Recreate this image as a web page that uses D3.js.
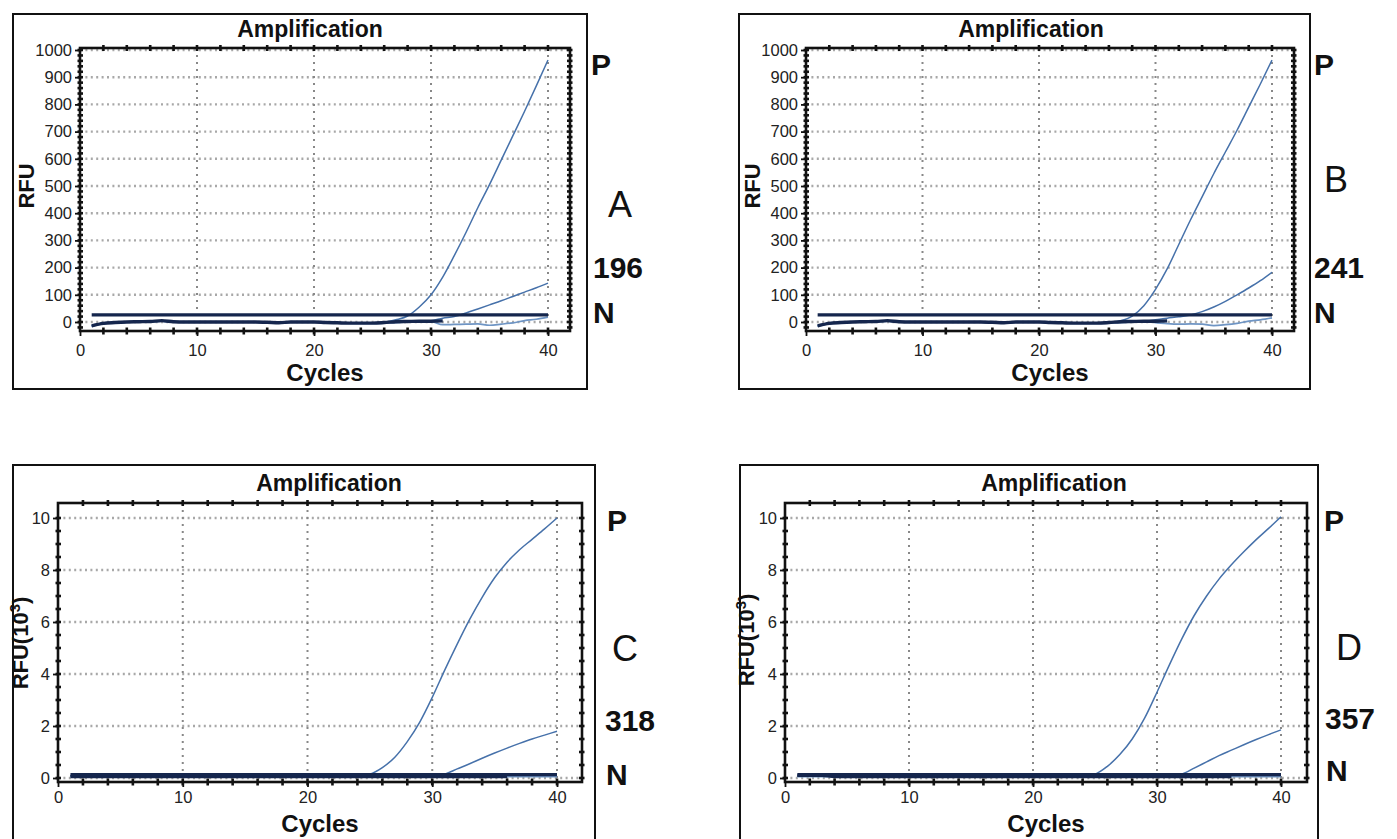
<!DOCTYPE html>
<html><head><meta charset="utf-8">
<script src="https://cdn.jsdelivr.net/npm/d3@7"></script>
<style>
body{margin:0;background:#fff}
text{font-family:"Liberation Sans",Arial,sans-serif}
</style>
</head><body>
<svg id="c" width="1397" height="839"></svg>
<script>
// ---------------- DATA ----------------
const cycles = d3.range(1, 41);            // cycle numbers 1..40
const xTicks = [0, 10, 20, 30, 40];
const yTicksRFU = [0, 100, 200, 300, 400, 500, 600, 700, 800, 900, 1000];
const yTicksK = [0, 2, 4, 6, 8, 10];

// Panel A (RFU)
const A_threshold = 26;
const A_base = [-14,-5,-2,0,1,2,5,1,0,0, 0,0,0,0,0,-1,-3,0,0,0, -2,-3,-4,-4,-4,-2,1,2,3,3, 4];
const A_P    = [-14,-5,-2,0,1,2,4,1,0,0, 0,0,0,0,0,-1,-3,0,0,0, -2,-3,-4,-4,-4,-1,8,22,55,100, 165,245,330,420,505,595,685,775,868,963];
const A_S196 = [-15,-6,-3,-1,0,1,3,0,0,0, 0,0,0,0,0,-1,-3,0,0,0, -3,-4,-5,-5,-5,-3,0,2,3,5, 14,20,33,48,63,78,94,110,126,143];
const A_N    = [-16,-6,-3,-1,0,1,3,0,0,-1, -1,0,0,0,-1,-2,-4,-1,0,0, -3,-4,-5,-5,-5,-4,-2,0,1,1, -10,-9,-8,-7,-12,-8,-3,5,10,18];

// Panel B (RFU)
const B_threshold = 26;
const B_base = [-14,-5,-2,0,1,2,5,1,0,0, 0,0,0,0,0,-1,-3,0,0,0, -2,-3,-4,-4,-4,-2,1,2,3,3, 4];
const B_P    = [-14,-5,-2,0,1,2,4,1,0,0, 0,0,0,0,0,-1,-3,0,0,0, -2,-3,-4,-4,-4,-1,5,22,60,120, 195,285,375,460,545,625,705,790,875,963];
const B_S241 = [-15,-6,-3,-1,0,1,3,0,0,0, 0,0,0,0,0,-1,-3,0,0,0, -3,-4,-5,-5,-5,-3,0,2,3,8, 14,19,26,38,55,76,100,125,152,183];
const B_N    = [-16,-6,-3,-1,0,1,3,0,0,-1, -1,0,0,0,-1,-2,-4,-1,0,0, -3,-4,-5,-5,-5,-4,-2,0,1,-2, -6,-8,-7,-8,-13,-10,-5,3,8,15];

// Panel C (RFU x10^3)
const C_threshold = 0.13;
const C_base = [0.06,0.06,0.06,0.06,0.06,0.06,0.06,0.06,0.06,0.06, 0.06,0.06,0.06,0.06,0.06,0.06,0.06,0.06,0.06,0.06, 0.06,0.06,0.06,0.06,0.06,0.06,0.06,0.06,0.06,0.06, 0.06,0.06,0.06,0.06,0.06,0.06];
const C_P    = [0.08,0.08,0.08,0.08,0.08,0.08,0.08,0.08,0.08,0.08, 0.08,0.08,0.08,0.08,0.08,0.08,0.08,0.08,0.08,0.08, 0.08,0.08,0.08,0.08,0.15,0.4,0.8,1.4,2.15,3.1, 4.15,5.15,6.1,6.95,7.7,8.3,8.78,9.18,9.58,10.0];
const C_S318 = [0.08,0.08,0.08,0.08,0.08,0.08,0.08,0.08,0.08,0.08, 0.08,0.08,0.08,0.08,0.08,0.08,0.08,0.08,0.08,0.08, 0.08,0.08,0.08,0.08,0.08,0.08,0.08,0.08,0.08,0.08, 0.15,0.35,0.55,0.76,0.96,1.15,1.33,1.5,1.65,1.8];
const C_N    = [0.05,0.05,0.05,0.05,0.05,0.05,0.05,0.05,0.05,0.05, 0.05,0.05,0.05,0.05,0.05,0.05,0.05,0.05,0.05,0.05, 0.05,0.05,0.05,0.05,0.05,0.05,0.05,0.05,0.05,0.05, 0.05,0.05,0.05,0.05,0.05,0.05,0.05,0.05,0.05,0.05];

// Panel D (RFU x10^3)
const D_threshold = 0.13;
const D_base = [0.1,0.1,0.1,0.06,0.06,0.06,0.06,0.06,0.06,0.06, 0.06,0.06,0.06,0.06,0.06,0.06,0.06,0.06,0.06,0.06, 0.06,0.06,0.06,0.06,0.06,0.06,0.06,0.06,0.06,0.06, 0.06,0.06,0.06,0.06,0.06,0.06];
const D_P    = [0.08,0.08,0.08,0.08,0.08,0.08,0.08,0.08,0.08,0.08, 0.08,0.08,0.08,0.08,0.08,0.08,0.08,0.08,0.08,0.08, 0.08,0.08,0.08,0.08,0.15,0.45,0.9,1.5,2.3,3.3, 4.35,5.35,6.25,7.0,7.65,8.2,8.7,9.17,9.6,10.05];
const D_S357 = [0.08,0.08,0.08,0.08,0.08,0.08,0.08,0.08,0.08,0.08, 0.08,0.08,0.08,0.08,0.08,0.08,0.08,0.08,0.08,0.08, 0.08,0.08,0.08,0.08,0.08,0.08,0.08,0.08,0.08,0.08, 0.08,0.15,0.38,0.62,0.86,1.07,1.28,1.48,1.67,1.85];
const D_N    = [0.05,0.05,0.05,0.05,0.05,0.05,0.05,0.05,0.05,0.05, 0.05,0.05,0.05,0.05,0.05,0.05,0.05,0.05,0.05,0.05, 0.05,0.05,0.05,0.05,0.05,0.05,0.05,0.05,0.05,0.05, 0.05,0.05,0.05,0.05,0.05,0.05,0.05,0.05,0.05,0.05];

const panelLetters = ["A", "B", "C", "D"];
const sampleLabels = ["196", "241", "318", "357"];
const yTitles = [["RFU", ""], ["RFU", ""], ["RFU(10", "3", ")"], ["RFU(10", "3", ")"]];

// ---------------- LAYOUT ----------------
const svg = d3.select("#c");
const NAVY = "#15264d", BLUE = "#4671aa";

const panels = [
  {letter: panelLetters[0], sample: sampleLabels[0], ytitle: yTitles[0], yTicks: yTicksRFU, yMax: 1000, minorY: 20,
   thr: A_threshold, base: A_base, curves: [A_N, A_S196, A_P],
   box: [13, 14, 574, 375], x0: 80, x40: 548, frameR: 570, y0: 322, yTop: 50, frameT: 48, frameB: 331,
   titleX: 310, titleY: 37, cycY: 381, xlabPad: 8, ytX: 27, ytY: 186,
   lab: {P: [591, 75], L: [608, 217], S: [593, 278], N: [593, 323]}},
  {letter: panelLetters[1], sample: sampleLabels[1], ytitle: yTitles[1], yTicks: yTicksRFU, yMax: 1000, minorY: 20,
   thr: B_threshold, base: B_base, curves: [B_N, B_S241, B_P],
   box: [739, 14, 571, 375], x0: 806, x40: 1272, frameR: 1294, y0: 322, yTop: 50, frameT: 48, frameB: 331,
   titleX: 1031, titleY: 37, cycY: 381, xlabPad: 8, ytX: 753, ytY: 186,
   lab: {P: [1314, 75], L: [1324, 192], S: [1314, 278], N: [1314, 323]}},
  {letter: panelLetters[2], sample: sampleLabels[2], ytitle: yTitles[2], yTicks: yTicksK, yMax: 10, minorY: 0.5,
   thr: C_threshold, base: C_base, curves: [C_N, C_S318, C_P],
   box: [13, 465, 582, 420], x0: 58, x40: 557, frameR: 582, y0: 778, yTop: 518, frameT: 503, frameB: 782,
   titleX: 329, titleY: 491, cycY: 832, xlabPad: 4, ytX: 21, ytY: 643,
   lab: {P: [607, 531], L: [612, 661], S: [605, 731], N: [606, 785]}},
  {letter: panelLetters[3], sample: sampleLabels[3], ytitle: yTitles[3], yTicks: yTicksK, yMax: 10, minorY: 0.5,
   thr: D_threshold, base: D_base, curves: [D_N, D_S357, D_P],
   box: [740, 465, 578, 420], x0: 785, x40: 1281, frameR: 1307, y0: 778, yTop: 518, frameT: 503, frameB: 782,
   titleX: 1054, titleY: 491, cycY: 832, xlabPad: 4, ytX: 747, ytY: 640,
   lab: {P: [1324, 531], L: [1336, 660], S: [1325, 729], N: [1326, 781]}}
];

panels.forEach(drawPanel);

function drawPanel(p) {
  const g = svg.append("g");
  const x = d3.scaleLinear().domain([0, 40]).range([p.x0, p.x40]);
  const y = d3.scaleLinear().domain([0, p.yMax]).range([p.y0, p.yTop]);
  const L = p.x0, R = p.frameR, T = p.frameT, B = p.frameB;

  // outer box
  g.append("rect").attr("x", p.box[0]).attr("y", p.box[1]).attr("width", p.box[2]).attr("height", p.box[3])
    .attr("fill", "none").attr("stroke", "#111").attr("stroke-width", 2);

  // horizontal dotted grid
  g.selectAll(".hg").data(p.yTicks).join("line")
    .attr("x1", L).attr("x2", R).attr("y1", d => y(d)).attr("y2", d => y(d))
    .attr("stroke", "#a8a8a8").attr("stroke-width", 2.4).attr("stroke-dasharray", "2,3.4");
  // vertical dotted grid
  g.selectAll(".vg").data(xTicks.filter(d => d > 0)).join("line")
    .attr("x1", d => x(d)).attr("x2", d => x(d)).attr("y1", T).attr("y2", B)
    .attr("stroke", "#888").attr("stroke-width", 2).attr("stroke-dasharray", "2,5");

  const line = d3.line().x((d, i) => x(cycles[i])).y(d => y(d)).curve(d3.curveMonotoneX);

  // thin sample curves
  p.curves.forEach((arr, k) => {
    g.append("path").attr("d", line(arr)).attr("fill", "none")
      .attr("stroke", k === 0 ? "#6f95c4" : BLUE).attr("stroke-width", k === 0 ? 1.7 : 1.5);
  });
  // thick baseline
  g.append("path").attr("d", line(p.base)).attr("fill", "none").attr("stroke", NAVY).attr("stroke-width", 3.4);
  // threshold line
  g.append("line").attr("x1", x(cycles[0])).attr("x2", x(cycles[cycles.length - 1]))
    .attr("y1", y(p.thr)).attr("y2", y(p.thr)).attr("stroke", NAVY).attr("stroke-width", 3.2);

  // plot frame
  g.append("rect").attr("x", L).attr("y", T).attr("width", R - L).attr("height", B - T)
    .attr("fill", "none").attr("stroke", "#111").attr("stroke-width", 2.6);

  // minor ticks along left/right (y) and top/bottom (x)
  const yMinor = d3.range(0, p.yMax + 1e-9, p.minorY).concat(d3.range(-p.minorY, y.invert(B) - 1e-9, -p.minorY));
  g.selectAll(".ym").data(yMinor.filter(v => y(v) > T + 1 && y(v) < B - 1)).join("g").each(function (v) {
    const s = d3.select(this);
    s.append("line").attr("x1", L - 2.5).attr("x2", L + 3).attr("y1", y(v)).attr("y2", y(v)).attr("stroke", "#111").attr("stroke-width", 2.6);
    s.append("line").attr("x1", R - 3).attr("x2", R + 2.5).attr("y1", y(v)).attr("y2", y(v)).attr("stroke", "#111").attr("stroke-width", 2.6);
  });
  const xMinor = d3.range(2, 42, 2);
  g.selectAll(".xm").data(xMinor.filter(v => x(v) < R - 2)).join("g").each(function (v) {
    const s = d3.select(this);
    s.append("line").attr("x1", x(v)).attr("x2", x(v)).attr("y1", B - 3.5).attr("y2", B + 3.5).attr("stroke", "#111").attr("stroke-width", 2.6);
    s.append("line").attr("x1", x(v)).attr("x2", x(v)).attr("y1", T - 3).attr("y2", T + 3).attr("stroke", "#111").attr("stroke-width", 2.6);
  });

  // axes with labels
  const ya = g.append("g").attr("transform", `translate(${L},0)`)
    .call(d3.axisLeft(y).tickValues(p.yTicks).tickFormat(d3.format("d")).tickSize(5).tickPadding(3));
  const xa = g.append("g").attr("transform", `translate(0,${B})`)
    .call(d3.axisBottom(x).tickValues(xTicks).tickFormat(d3.format("d")).tickSize(5).tickPadding(p.xlabPad));
  [ya, xa].forEach(a => {
    a.select(".domain").remove();
    a.selectAll("line").attr("stroke", "#111").attr("stroke-width", 1.8);
    a.selectAll("text").attr("font-size", 16.5).attr("fill", "#222")
      .attr("font-family", '"Liberation Sans",Arial,sans-serif');
  });

  // titles
  g.append("text").attr("x", p.titleX).attr("y", p.titleY).attr("text-anchor", "middle")
    .attr("font-size", 23).attr("font-weight", "bold").attr("fill", "#111").text("Amplification");
  g.append("text").attr("x", (L + R) / 2).attr("y", p.cycY).attr("text-anchor", "middle")
    .attr("font-size", 24).attr("font-weight", "bold").attr("fill", "#111").text("Cycles");
  const yt = g.append("text").attr("transform", `translate(${p.ytX + 7},${p.ytY}) rotate(-90)`)
    .attr("text-anchor", "middle")
    .attr("font-size", 22).attr("font-weight", "bold").attr("fill", "#111");
  yt.append("tspan").text(p.ytitle[0]);
  if (p.ytitle[1]) {
    yt.append("tspan").attr("font-size", 15).attr("dy", -8).text(p.ytitle[1]);
    yt.append("tspan").attr("dy", 8).text(p.ytitle[2]);
  }

  // right-side labels
  const big = (t, pos) => g.append("text").attr("x", pos[0]).attr("y", pos[1])
    .attr("font-size", 30).attr("font-weight", "bold").attr("fill", "#111").text(t);
  big("P", p.lab.P);
  big(p.sample, p.lab.S);
  big("N", p.lab.N);
  g.append("text").attr("x", p.lab.L[0]).attr("y", p.lab.L[1])
    .attr("font-size", 36).attr("font-family", '"Open Sans","Noto Sans",sans-serif')
    .attr("fill", "#111").text(p.letter);
}
</script>
</body></html>
